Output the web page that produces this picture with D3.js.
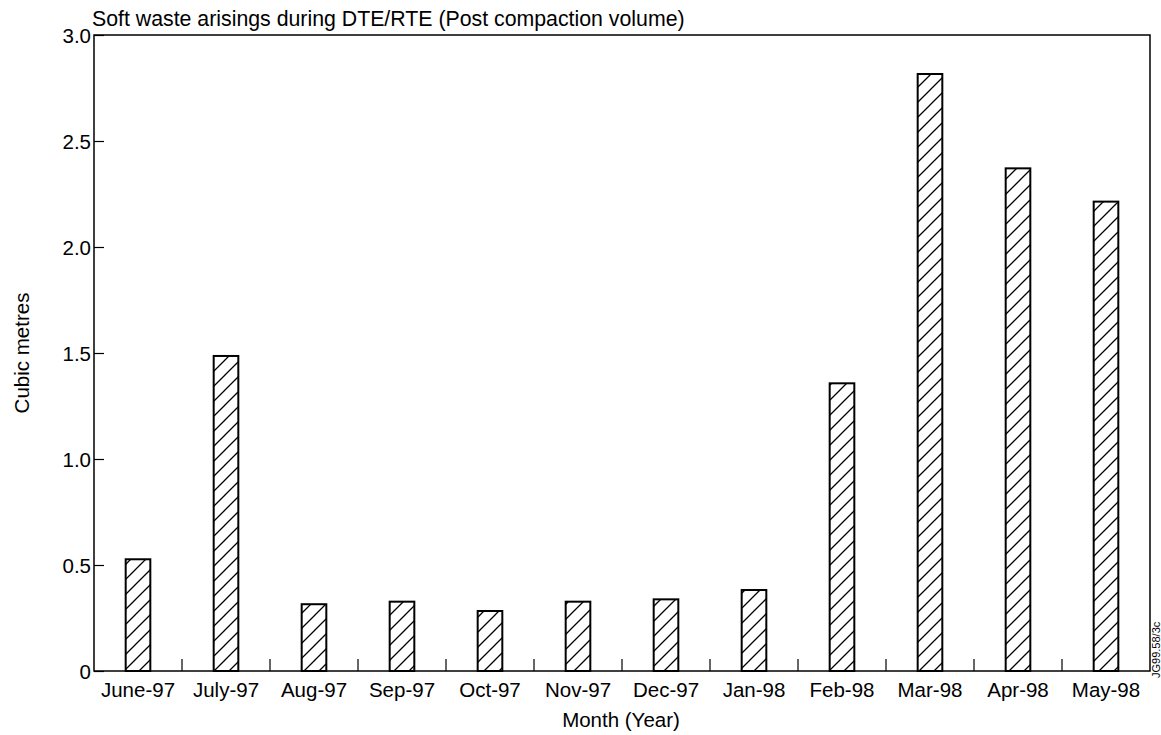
<!DOCTYPE html>
<html>
<head>
<meta charset="utf-8">
<script src="https://cdn.jsdelivr.net/npm/d3@7"></script>
<style>
  body { margin: 0; background: #fff; }
  svg { font-family: "Liberation Sans", Arial, sans-serif; }
</style>
</head>
<body>
<svg id="chart" width="1161" height="735"></svg>
<script>
// data
var months = ["June-97", "July-97", "Aug-97", "Sep-97", "Oct-97", "Nov-97", "Dec-97", "Jan-98", "Feb-98", "Mar-98", "Apr-98", "May-98"];
var volumes = [0.527, 1.486, 0.315, 0.327, 0.283, 0.327, 0.338, 0.382, 1.357, 2.816, 2.371, 2.214];
var yTicks = [0, 0.5, 1.0, 1.5, 2.0, 2.5, 3.0];

var margin = { left: 94, right: 11, top: 35, bottom: 64 };
var width = 1161, height = 735;
var fs = 20.5;

var svg = d3.select("#chart");

var x = d3.scaleBand()
  .domain(months)
  .range([margin.left, width - margin.right])
  .paddingInner(0.72)
  .paddingOuter(0.36);

var y = d3.scaleLinear()
  .domain([0, 3])
  .range([height - margin.bottom, margin.top]);

// hatch pattern
var defs = svg.append("defs");
var pat = defs.append("pattern")
  .attr("id", "hatch")
  .attr("patternUnits", "userSpaceOnUse")
  .attr("width", 15)
  .attr("height", 15);
pat.append("rect").attr("width", 15).attr("height", 15).attr("fill", "#fff");
pat.append("path")
  .attr("d", "M-4,4 L4,-4 M0,15 L15,0 M11,19 L19,11")
  .attr("stroke", "#000")
  .attr("stroke-width", 1.3);

// bars
svg.append("g")
  .selectAll("rect")
  .data(months)
  .enter().append("rect")
  .attr("x", function (d) { return x(d); })
  .attr("y", function (d, i) { return y(volumes[i]); })
  .attr("width", x.bandwidth())
  .attr("height", function (d, i) { return y(0) - y(volumes[i]); })
  .attr("fill", "url(#hatch)")
  .attr("stroke", "#000")
  .attr("stroke-width", 2);

// frame
svg.append("rect")
  .attr("x", margin.left)
  .attr("y", margin.top)
  .attr("width", width - margin.left - margin.right)
  .attr("height", height - margin.top - margin.bottom)
  .attr("fill", "none")
  .attr("stroke", "#000")
  .attr("stroke-width", 1.5);

// y axis, inside ticks
var yAxis = d3.axisRight(y)
  .tickValues(yTicks)
  .tickSize(10)
  .tickFormat(function (d) { return d == 0 ? "0" : d3.format(".1f")(d); });
var gy = svg.append("g")
  .attr("transform", "translate(" + margin.left + ",0)")
  .call(yAxis);
gy.select(".domain").remove();
gy.selectAll(".tick line").attr("stroke", "#000").attr("stroke-width", 1.2);
gy.selectAll(".tick text")
  .attr("x", -3)
  .attr("text-anchor", "end")
  .attr("font-size", fs)
  .attr("fill", "#000")
  .attr("dy", "0.35em");

// x ticks at category boundaries, pointing up
var bounds = months.slice(1).map(function (d) { return x(d) - x.step() * x.paddingInner() / 2; });
svg.append("g")
  .selectAll("line")
  .data(bounds)
  .enter().append("line")
  .attr("x1", function (d) { return d; })
  .attr("x2", function (d) { return d; })
  .attr("y1", y(0))
  .attr("y2", y(0) - 12)
  .attr("stroke", "#000")
  .attr("stroke-width", 1.2);

// x labels
svg.append("g")
  .selectAll("text")
  .data(months)
  .enter().append("text")
  .attr("x", function (d) { return x(d) + x.bandwidth() / 2; })
  .attr("y", 697)
  .attr("text-anchor", "middle")
  .attr("font-size", fs)
  .text(function (d) { return d; });

// titles
svg.append("text")
  .attr("x", 92)
  .attr("y", 26)
  .attr("font-size", 21.3)
  .text("Soft waste arisings during DTE/RTE (Post compaction volume)");

svg.append("text")
  .attr("x", (margin.left + width - margin.right) / 2 - 1)
  .attr("y", 727)
  .attr("text-anchor", "middle")
  .attr("font-size", fs)
  .text("Month (Year)");

svg.append("text")
  .attr("transform", "translate(29," + (margin.top + height - margin.bottom) / 2 + ") rotate(-90)")
  .attr("text-anchor", "middle")
  .attr("font-size", fs)
  .text("Cubic metres");

svg.append("text")
  .attr("transform", "translate(1160,678) rotate(-90)")
  .attr("font-size", 11)
  .text("JG99.58/3c");
</script>
</body>
</html>
